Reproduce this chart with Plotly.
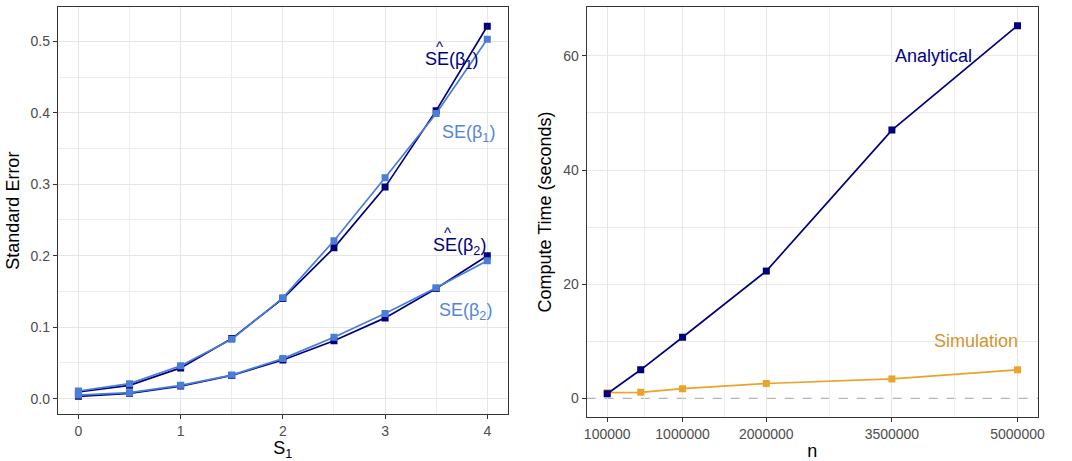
import plotly.graph_objects as go

# ---------------- data ----------------
s1 = [0, 0.5, 1, 1.5, 2, 2.5, 3, 3.5, 4]
se_hat_b1 = [0.0093, 0.0186, 0.043, 0.084, 0.140, 0.211, 0.296, 0.403, 0.521]
se_b1 = [0.0107, 0.021, 0.046, 0.083, 0.141, 0.221, 0.309, 0.399, 0.503]
se_hat_b2 = [0.0032, 0.0074, 0.0176, 0.0325, 0.054, 0.081, 0.113, 0.154, 0.200]
se_b2 = [0.005, 0.0084, 0.0186, 0.033, 0.056, 0.086, 0.119, 0.155, 0.193]

n_vals = [100000, 500000, 1000000, 2000000, 3500000, 5000000]
analytical = [0.8, 5.0, 10.7, 22.3, 47.0, 65.3]
simulation = [1.0, 1.05, 1.7, 2.6, 3.4, 5.0]
n_ticks = [100000, 1000000, 2000000, 3500000, 5000000]
n_minor = [550000, 1500000, 2750000, 4250000]
time_ticks = [0, 20, 40, 60]
time_grid = [10, 20, 30, 40, 50, 60]

NAVY = "#00007F"
LIGHT = "#4A7DD6"
LIGHT_TXT = "#5585D8"
ORANGE = "#EBA329"
ORANGE_TXT = "#D1952E"
FONT = "Liberation Sans"

fig = go.Figure()

def add_line(x, y, color, xa, ya):
    fig.add_trace(go.Scatter(
        x=x, y=y, mode="lines+markers", xaxis=xa, yaxis=ya,
        line=dict(color=color, width=1.7),
        marker=dict(symbol="square", size=7, color=color),
        showlegend=False, hoverinfo="skip"))

add_line(s1, se_hat_b1, NAVY, "x", "y")
add_line(s1, se_hat_b2, NAVY, "x", "y")
add_line(s1, se_b1, LIGHT, "x", "y")
add_line(s1, se_b2, LIGHT, "x", "y")
add_line(n_vals, simulation, ORANGE, "x2", "y2")
add_line(n_vals, analytical, NAVY, "x2", "y2")

axis_common = dict(
    showline=True, mirror=True, linecolor="#333333", linewidth=1.3,
    ticks="outside", ticklen=4, tickwidth=1.1, tickcolor="#333333",
    tickfont=dict(family=FONT, size=14, color="#4D4D4D"),
    gridcolor="#E6E6E6", gridwidth=1, zeroline=False, automargin=False,
)
minor_common = dict(showgrid=True, gridcolor="#EDEDED", gridwidth=0.7, ticks="")

fig.update_layout(
    width=1072, height=461,
    margin=dict(l=58, r=34, t=7, b=44),
    plot_bgcolor="white", paper_bgcolor="white",
    font=dict(family=FONT),
    xaxis=dict(axis_common, domain=[0, 0.4589], range=[-0.2, 4.2],
               tickvals=[0, 1, 2, 3, 4], anchor="y",
               minor=dict(minor_common, tickvals=[0.5, 1.5, 2.5, 3.5]),
               title=dict(text="S<sub>1</sub>", standoff=4,
                          font=dict(family=FONT, size=18, color="black"))),
    yaxis=dict(axis_common, domain=[0.0066, 1], range=[-0.0219, 0.548],
               tickvals=[0, 0.1, 0.2, 0.3, 0.4, 0.5], tickformat=".1f",
               anchor="x",
               minor=dict(minor_common, tickvals=[0.05, 0.15, 0.25, 0.35, 0.45]),
               title=dict(text="Standard Error", standoff=6,
                          font=dict(family=FONT, size=18, color="black"))),
    xaxis2=dict(axis_common, domain=[0.5395, 1], range=[-145000, 5245000],
                tickvals=n_ticks, ticktext=[str(v) for v in n_ticks],
                anchor="y2",
                minor=dict(minor_common, tickvals=n_minor),
                title=dict(text="n", standoff=4,
                           font=dict(family=FONT, size=18, color="black"))),
    yaxis2=dict(axis_common, domain=[0, 1], range=[-3.27, 68.57],
                tickvals=time_ticks, anchor="x2", showgrid=False,
                minor=dict(showgrid=True, gridcolor="#E9E9E9", gridwidth=0.9,
                           ticks="", tickvals=time_grid),
                title=dict(text="Compute Time (seconds)", standoff=6,
                           font=dict(family=FONT, size=18, color="black"))),
)

# dashed zero line on right panel
fig.add_shape(type="line", xref="x2 domain", yref="y2", x0=0, x1=1, y0=0, y1=0,
              line=dict(color="#B5B5B5", width=1.4, dash="dash"), layer="below")

def label(x, y, text, color, xref="x", yref="y", size=18, xshift=0, yshift=0):
    fig.add_annotation(x=x, y=y, xref=xref, yref=yref, text=text, showarrow=False,
                       xshift=xshift, yshift=yshift,
                       font=dict(family=FONT, size=size, color=color))

label(3.65, 0.473, "SE(β<sub>1</sub>)", NAVY)
label(3.65, 0.473, "^", NAVY, size=15, xshift=-12, yshift=14)
label(3.82, 0.371, "SE(β<sub>1</sub>)", LIGHT_TXT)
label(3.73, 0.213, "SE(β<sub>2</sub>)", NAVY)
label(3.73, 0.213, "^", NAVY, size=15, xshift=-12, yshift=14)
label(3.79, 0.122, "SE(β<sub>2</sub>)", LIGHT_TXT)
label(4000000, 60, "Analytical", NAVY, "x2", "y2")
label(4500000, 10, "Simulation", ORANGE_TXT, "x2", "y2")

fig.write_html("out.html")
